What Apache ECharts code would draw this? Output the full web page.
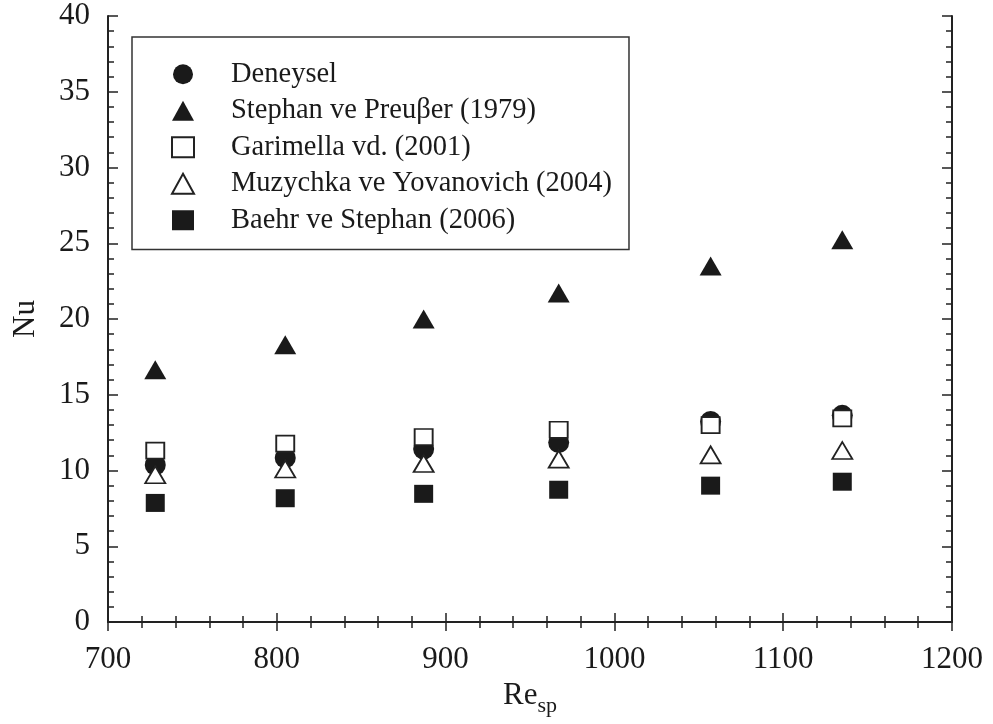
<!DOCTYPE html>
<html>
<head>
<meta charset="utf-8">
<script src="https://cdn.jsdelivr.net/npm/echarts@6/dist/echarts.min.js"></script>
<style>html,body{margin:0;padding:0;background:#fff;}#c{width:993px;height:724px;}</style>
</head>
<body>
<div id="c"></div>
<script>
const reValues = [728, 805, 887, 967, 1057, 1135];
const deneysel = [10.36, 10.83, 11.42, 11.85, 13.24, 13.64];
const stephanPreusser = [16.65, 18.3, 20.0, 21.72, 23.5, 25.23];
const garimella = [11.31, 11.77, 12.21, 12.69, 13.0, 13.44];
const muzychka = [9.72, 10.1, 10.46, 10.75, 11.03, 11.32];
const baehrStephan = [7.86, 8.17, 8.46, 8.73, 9.0, 9.26];
const seriesNames = ['Deneysel', 'Stephan ve Preuβer (1979)', 'Garimella vd. (2001)', 'Muzychka ve Yovanovich (2004)', 'Baehr ve Stephan (2006)'];
const xTicks = { min: 700, max: 1200, interval: 100 };
const yTicks = { min: 0, max: 40, interval: 5 };

const FONT = 'Liberation Serif';
const INK = '#1a1a1a';
const pairs = arr => reValues.map((x, i) => [x, arr[i]]);
const plain = v => String(v);

const axisCommon = {
  axisLine: { show: true, lineStyle: { color: '#222', width: 2 } },
  splitLine: { show: false },
  minorSplitLine: { show: false }
};

const option = {
  animation: false,
  backgroundColor: '#fff',
  grid: { left: 108, right: 41, top: 16, bottom: 102, containLabel: false },
  xAxis: [
    Object.assign({}, axisCommon, {
      type: 'value', position: 'bottom', min: xTicks.min, max: xTicks.max, interval: xTicks.interval,
      axisTick: { inside: true, length: 9, lineStyle: { color: '#222', width: 1.5 } },
      minorTick: { show: true, splitNumber: 5, length: 6, lineStyle: { color: '#222', width: 1.5 } },
      axisLabel: { fontFamily: FONT, fontSize: 31, color: INK, margin: 22, formatter: plain },
      name: '{a|Re}{b|sp}', nameLocation: 'middle', nameGap: 53,
      nameTextStyle: {
        fontFamily: FONT, color: INK,
        rich: {
          a: { fontFamily: FONT, fontSize: 31, color: INK, verticalAlign: 'top', lineHeight: 31 },
          b: { fontFamily: FONT, fontSize: 22, color: INK, verticalAlign: 'top', lineHeight: 22, padding: [15, 0, 0, 0] }
        }
      }
    }),
    Object.assign({}, axisCommon, {
      type: 'value', position: 'top', min: xTicks.min, max: xTicks.max, interval: xTicks.interval,
      axisTick: { inside: true, length: 9, lineStyle: { color: '#222', width: 1.5 } },
      minorTick: { show: true, splitNumber: 5, length: 6, lineStyle: { color: '#222', width: 1.5 } },
      axisLabel: { show: false }
    })
  ],
  yAxis: [
    Object.assign({}, axisCommon, {
      type: 'value', position: 'left', min: yTicks.min, max: yTicks.max, interval: yTicks.interval,
      axisTick: { inside: true, length: 10, lineStyle: { color: '#222', width: 1.5 } },
      minorTick: { show: true, splitNumber: 5, length: 6, lineStyle: { color: '#222', width: 1.5 } },
      axisLabel: { fontFamily: FONT, fontSize: 31, color: INK, margin: 18, formatter: plain },
      name: 'Nu', nameLocation: 'middle', nameGap: 67, nameRotate: 90,
      nameTextStyle: { fontFamily: FONT, fontSize: 31, color: INK }
    }),
    Object.assign({}, axisCommon, {
      type: 'value', position: 'right', min: yTicks.min, max: yTicks.max, interval: yTicks.interval,
      axisTick: { inside: true, length: 10, lineStyle: { color: '#222', width: 1.5 } },
      minorTick: { show: true, splitNumber: 5, length: 6, lineStyle: { color: '#222', width: 1.5 } },
      axisLabel: { show: false }
    })
  ],
  legend: {
    orient: 'vertical', left: 132, top: 37,
    padding: [19, 17, 11, 39],
    borderColor: '#333', borderWidth: 1.5, backgroundColor: '#fff',
    itemWidth: 22, itemHeight: 20, itemGap: 0,
    textStyle: { fontFamily: FONT, fontSize: 28.5, color: INK, lineHeight: 36.5, padding: [0, 0, 0, 32] },
    data: seriesNames,
    selectedMode: false
  },
  series: [
    { name: seriesNames[0], type: 'scatter', data: pairs(deneysel), symbol: 'circle', symbolSize: 21,
      itemStyle: { color: INK, opacity: 1 } },
    { name: seriesNames[1], type: 'scatter', data: pairs(stephanPreusser), symbol: 'triangle', symbolSize: [22, 19],
      itemStyle: { color: INK, opacity: 1 } },
    { name: seriesNames[2], type: 'scatter', data: pairs(garimella), symbol: 'rect', symbolSize: [18, 16],
      itemStyle: { color: '#fff', borderColor: '#222', borderWidth: 1.8, opacity: 1 } },
    { name: seriesNames[3], type: 'scatter', data: pairs(muzychka), symbol: 'triangle', symbolSize: [20, 17],
      itemStyle: { color: '#fff', borderColor: '#222', borderWidth: 1.8, opacity: 1 } },
    { name: seriesNames[4], type: 'scatter', data: pairs(baehrStephan), symbol: 'rect', symbolSize: [19, 18],
      itemStyle: { color: INK, opacity: 1 } }
  ]
};

const chart = echarts.init(document.getElementById('c'), null, { renderer: 'canvas' });
chart.setOption(option);
</script>
</body>
</html>
